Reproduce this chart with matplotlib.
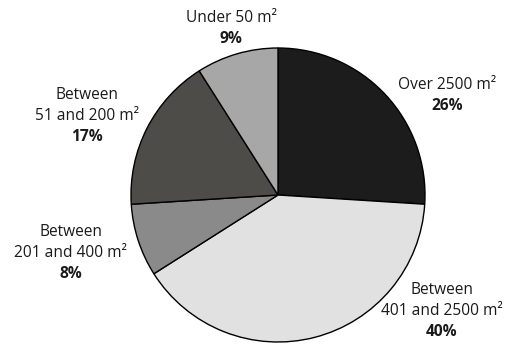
import matplotlib
matplotlib.use("Agg")
import matplotlib.pyplot as plt

categories = ["Over 2500 m²", "Between\n401 and 2500 m²", "Between\n201 and 400 m²",
              "Between\n51 and 200 m²", "Under 50 m²"]
shares = [26, 40, 8, 17, 9]
colors = ["#1c1c1c", "#e1e1e1", "#8a8a8a", "#4e4c49", "#a7a7a7"]

# label anchor points (x, y of first line, pixel space from top-left)
label_pos = [(447, 85), (442, 290), (71, 232), (87, 95), (231, 18)]

W, H = 505, 351
fig = plt.figure(figsize=(W / 100, H / 100), dpi=100)
ax = fig.add_axes([0, 0, 1, 1])

ax.pie(shares, colors=colors, startangle=90, counterclock=False,
       center=(278, H - 195), radius=147,
       wedgeprops=dict(edgecolor="black", linewidth=1.0))

ax.set_xlim(0, W)
ax.set_ylim(0, H)
ax.set_aspect("equal")
ax.axis("off")

font = "Open Sans"
fs = 11.2
step = 21
for cat, val, (x, y) in zip(categories, shares, label_pos):
    lines = cat.split("\n")
    for i, line in enumerate(lines):
        ax.text(x, H - (y + i * step), line, ha="center", va="center",
                fontsize=fs, family=font, color="#1a1a1a")
    ax.text(x, H - (y + len(lines) * step), f"{val}%", ha="center", va="center",
            fontsize=fs, family=font, weight="bold", color="#1a1a1a")

fig.savefig("out.png", dpi=100)
